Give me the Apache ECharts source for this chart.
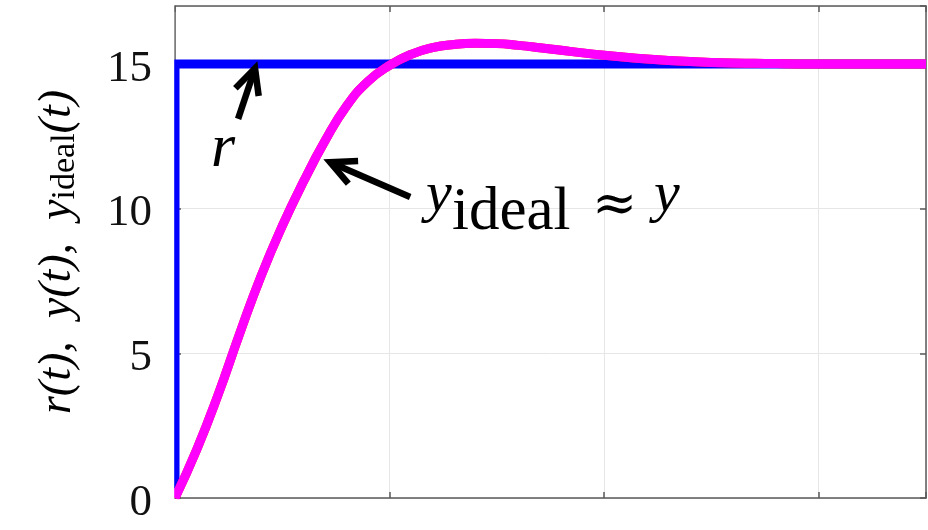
<!DOCTYPE html>
<html>
<head>
<meta charset="utf-8">
<script src="https://cdn.jsdelivr.net/npm/echarts@6/dist/echarts.min.js"></script>
<style>
  html, body { margin: 0; padding: 0; background: #ffffff; }
  #chart { width: 928px; height: 530px; }
</style>
</head>
<body>
<div id="chart"></div>
<script>
// Time samples (same units as the vertical grid spacing)
const time = [0, 0.1, 0.2, 0.3, 0.4, 0.5, 0.6, 0.7, 0.8, 0.9,
              1.0, 1.1, 1.2, 1.3, 1.4, 1.5, 1.6, 1.7, 1.8, 1.9,
              2.0, 2.1, 2.2, 2.3, 2.4, 2.5, 2.6, 2.7, 2.8, 2.9,
              3.0, 3.1, 3.2, 3.3, 3.4, 3.5];

// Ideal closed-loop response y_ideal(t)
const yIdeal = [0, 1.65, 3.55, 5.65, 7.65, 9.4, 10.95, 12.35, 13.55, 14.4,
                14.95, 15.33, 15.56, 15.67, 15.71, 15.7, 15.64, 15.56, 15.47, 15.38,
                15.3, 15.23, 15.17, 15.12, 15.08, 15.05, 15.03, 15.02, 15.01, 15.0,
                15.0, 15.0, 15.0, 15.0, 15.0, 15.0];

// Actual output y(t), practically on top of the ideal one
const yOutput = [0, 1.65, 3.55, 5.65, 7.65, 9.4, 10.95, 12.35, 13.55, 14.4,
                 14.95, 15.33, 15.56, 15.67, 15.71, 15.7, 15.64, 15.56, 15.47, 15.38,
                 15.3, 15.23, 15.17, 15.12, 15.08, 15.05, 15.03, 15.02, 15.01, 15.0,
                 15.0, 15.0, 15.0, 15.0, 15.0, 15.0];

// Reference step r(t)
const refTime = [0, 0, 3.5];
const refValue = [0, 15, 15];

// Axis ranges and ticks
const xRange = [0, 3.5];
const xStep = 1;
const yRange = [0, 17];
const yStep = 5;

const pairs = (xs, ys) => xs.map((x, i) => [x, ys[i]]);

const SERIF = '"Liberation Serif", "DejaVu Serif", serif';
const AXIS_COLOR = '#5a5a5a';
const GRID_COLOR = '#e6e6e6';

const chart = echarts.init(document.getElementById('chart'), null, { renderer: 'canvas' });

const baseAxis = {
  type: 'value',
  axisLine: { show: true, onZero: false, lineStyle: { color: AXIS_COLOR, width: 1.5 } },
  axisTick: { show: true, inside: true, length: 6, lineStyle: { color: AXIS_COLOR, width: 1.5 } },
  splitLine: { show: false },
  axisLabel: { show: false }
};

chart.setOption({
  animation: false,
  backgroundColor: '#ffffff',
  grid: { left: 175, right: 2, top: 6, bottom: 32, containLabel: false,
          show: true, borderWidth: 0, backgroundColor: '#ffffff' },
  xAxis: [
    Object.assign({}, baseAxis, {
      position: 'bottom', min: xRange[0], max: xRange[1], interval: xStep,
      splitLine: { show: true, lineStyle: { color: GRID_COLOR, width: 1 } }
    }),
    Object.assign({}, baseAxis, {
      position: 'top', min: xRange[0], max: xRange[1], interval: xStep
    })
  ],
  yAxis: [
    Object.assign({}, baseAxis, {
      position: 'left', min: yRange[0], max: yRange[1], interval: yStep,
      splitLine: { show: true, lineStyle: { color: GRID_COLOR, width: 1 } },
      axisLabel: {
        show: true, showMaxLabel: false, margin: 23,
        formatter: (v) => '{n|' + v + '}',
        rich: {
          n: { fontFamily: SERIF, fontSize: 45, color: '#111111', padding: [10, 0, 0, 0] }
        }
      }
    }),
    Object.assign({}, baseAxis, {
      position: 'right', min: yRange[0], max: yRange[1], interval: yStep
    })
  ],
  series: [
    {
      name: 'r', type: 'line', data: pairs(refTime, refValue),
      showSymbol: false, lineStyle: { color: '#0000ff', width: 9, join: 'miter' },
      z: 2
    },
    {
      name: 'y', type: 'line', data: pairs(time, yOutput), smooth: 0.5,
      showSymbol: false, lineStyle: { color: '#ff2020', width: 9 },
      z: 3
    },
    {
      name: 'y_ideal', type: 'line', data: pairs(time, yIdeal), smooth: 0.5,
      showSymbol: false, lineStyle: { color: '#ff00ff', width: 9 },
      z: 4
    }
  ]
});

// Annotation arrows, given in data coordinates (tail -> tip)
const arrows = [
  { tail: [0.294, 13.1], tip: [0.373, 14.85] },
  { tail: [1.096, 10.4], tip: [0.723, 11.6] }
];

const toPx = (p) => chart.convertToPixel({ gridIndex: 0 }, p);

function arrowShapes(a) {
  const t = toPx(a.tail), h = toPx(a.tip);
  const dx = t[0] - h[0], dy = t[1] - h[1];
  const len = Math.hypot(dx, dy);
  const ux = dx / len, uy = dy / len;
  const ang = 26 * Math.PI / 180, wl = 28;
  const rot = (s) => [
    h[0] + wl * (ux * Math.cos(s * ang) - uy * Math.sin(s * ang)),
    h[1] + wl * (ux * Math.sin(s * ang) + uy * Math.cos(s * ang))
  ];
  return [
    { type: 'polyline', shape: { points: [t, h] },
      style: { stroke: '#000', lineWidth: 6.5, fill: null }, z: 10 },
    { type: 'polyline', shape: { points: [rot(1), h, rot(-1)] },
      style: { stroke: '#000', lineWidth: 6.5, fill: null, lineJoin: 'miter' }, z: 10 }
  ];
}

const graphics = [];

// Keep the thick traces inside the axes box (left and bottom edges)
const origin = toPx([xRange[0], yRange[0]]);
graphics.push(
  { type: 'rect', shape: { x: origin[0] - 16, y: 0, width: 15.2, height: 530 },
    style: { fill: '#ffffff' }, z: 9, silent: true },
  { type: 'rect', shape: { x: origin[0] - 16, y: origin[1] + 1.3, width: 928, height: 40 },
    style: { fill: '#ffffff' }, z: 9, silent: true }
);

arrows.forEach(a => graphics.push(...arrowShapes(a)));

// Label next to the reference arrow
graphics.push({
  type: 'text', x: 211, y: 150, z: 11,
  style: { text: 'r', fontFamily: SERIF, fontStyle: 'italic', fontSize: 62,
           fill: '#000', align: 'left', verticalAlign: 'middle' }
});

// y_ideal ≈ y
graphics.push(
  { type: 'text', x: 426, y: 196, z: 11,
    style: { text: 'y', fontFamily: SERIF, fontStyle: 'italic', fontSize: 58,
             fill: '#000', align: 'left', verticalAlign: 'middle' } },
  { type: 'text', x: 452, y: 213, z: 11,
    style: { text: 'ideal', fontFamily: SERIF, fontSize: 61,
             fill: '#000', align: 'left', verticalAlign: 'middle' } },
  { type: 'text', x: 592, y: 207, z: 11,
    style: { text: '\u2248', fontFamily: '"DejaVu Serif", serif', fontSize: 54,
             fill: '#000', align: 'left', verticalAlign: 'middle' } },
  { type: 'text', x: 654, y: 196, z: 11,
    style: { text: 'y', fontFamily: SERIF, fontStyle: 'italic', fontSize: 58,
             fill: '#000', align: 'left', verticalAlign: 'middle' } }
);

// Vertical axis title: r(t), y(t), y_ideal(t)
graphics.push({
  type: 'text', x: 58, y: 252, rotation: Math.PI / 2, z: 11,
  style: {
    text: '{a|r(t),  y(t),  y}{s|ideal}{a|(t)}',
    fill: '#000', align: 'center', verticalAlign: 'middle',
    rich: {
      a: { fontFamily: SERIF, fontStyle: 'italic', fontSize: 46, lineHeight: 48,
           verticalAlign: 'middle', fill: '#000' },
      s: { fontFamily: SERIF, fontSize: 34, lineHeight: 22,
           verticalAlign: 'bottom', fill: '#000' }
    }
  }
});

chart.setOption({ graphic: graphics });
</script>
</body>
</html>
